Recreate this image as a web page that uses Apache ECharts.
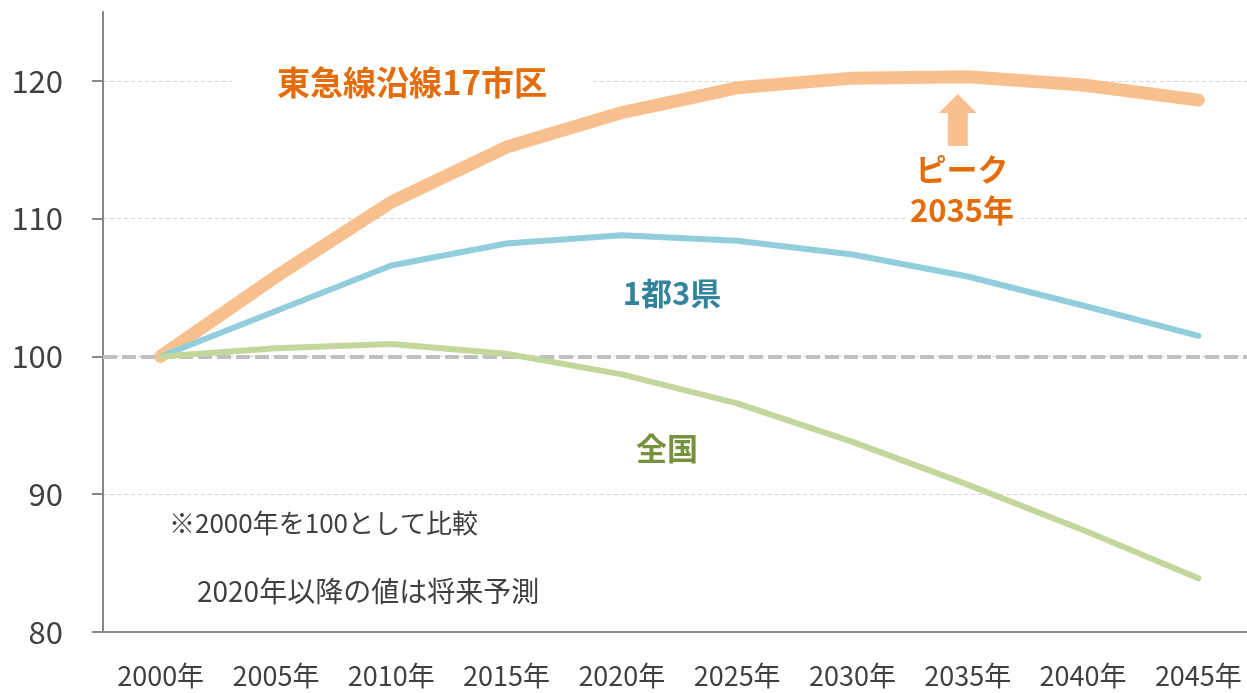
<!DOCTYPE html>
<html>
<head>
<meta charset="utf-8">
<script src="https://cdn.jsdelivr.net/npm/echarts@6/dist/echarts.min.js"></script>
<style>
  html, body { margin: 0; padding: 0; background: #fff; }
  #chart { width: 1247px; height: 693px; }
</style>
</head>
<body>
<div id="chart"></div>
<script>
// 年次（カテゴリ）
const years = ['2000年', '2005年', '2010年', '2015年', '2020年', '2025年', '2030年', '2035年', '2040年', '2045年']
// 2000年を100とした指数
const tokyuValues = [100, 105.8, 111.2, 115.2, 117.7, 119.5, 120.2, 120.3, 119.7, 118.6]
const metroValues = [100, 103.3, 106.6, 108.2, 108.8, 108.4, 107.4, 105.8, 103.7, 101.5]
const nationValues = [100, 100.6, 100.9, 100.2, 98.7, 96.6, 93.8, 90.7, 87.4, 83.9]
const yTicks = [80, 90, 100, 110, 120]

const FONT = "'Noto Sans CJK JP', 'Noto Sans', sans-serif"
const chart = echarts.init(document.getElementById('chart'))

chart.setOption({
  backgroundColor: '#fff',
  animation: false,
  textStyle: { fontFamily: FONT },
  // 右端は画面外まで伸ばす
  grid: { left: 103, right: -9, top: 12, bottom: 61, outerBoundsMode: 'none', containLabel: false },
  xAxis: {
    type: 'category',
    data: years,
    boundaryGap: true,
    axisLine: { lineStyle: { color: '#878787', width: 2 } },
    axisTick: { length: 10, lineStyle: { color: '#878787', width: 2 } },
    axisLabel: { color: '#404040', fontSize: 27, margin: 30, fontFamily: FONT }
  },
  yAxis: {
    type: 'value',
    min: 80,
    max: 125,
    interval: 10,
    axisLine: { show: true, lineStyle: { color: '#878787', width: 2 } },
    axisTick: { show: true, length: 11, customValues: yTicks, lineStyle: { color: '#878787', width: 2 } },
    axisLabel: { color: '#404040', fontSize: 31, margin: 40, customValues: yTicks, fontFamily: FONT },
    splitLine: {
      show: true,
      showMinLine: false,
      showMaxLine: true,
      lineStyle: { color: '#d4d4d4', width: 1, type: [4, 3] }
    }
  },
  series: [
    {
      name: '東急線沿線17市区',
      type: 'line',
      data: tokyuValues,
      symbol: 'none',
      z: 3,
      lineStyle: { color: '#f9c08f', width: 13, cap: 'round', join: 'round' },
      markPoint: {
        silent: true,
        symbol: 'path://M19,0 L38,19 L29,19 L29,52 L9,52 L9,19 L0,19 Z',
        symbolSize: [38, 52],
        symbolOffset: [-10, 0],
        itemStyle: { color: '#f9c08f' },
        label: { show: false },
        data: [{ coord: ['2035年', 117.16] }]
      }
    },
    {
      name: '1都3県',
      type: 'line',
      data: metroValues,
      symbol: 'none',
      z: 4,
      lineStyle: { color: '#92cddc', width: 6, cap: 'round', join: 'round' }
    },
    {
      name: '全国',
      type: 'line',
      data: nationValues,
      symbol: 'none',
      z: 5,
      lineStyle: { color: '#c3d69b', width: 6, cap: 'round', join: 'round' },
      markLine: {
        silent: true,
        symbol: ['none', 'none'],
        label: { show: false },
        lineStyle: { color: '#bfbfbf', width: 4, type: [14, 5] },
        data: [{ yAxis: 100 }]
      }
    }
  ],
  graphic: [
    {
      type: 'text',
      left: 232,
      top: 64,
      z: 10,
      style: {
        text: '東急線沿線17市区',
        fill: '#e46c0a',
        font: 'bold 33px ' + FONT,
        backgroundColor: '#fff',
        padding: [2, 45]
      }
    },
    {
      type: 'text',
      x: 962,
      y: 149,
      z: 10,
      style: {
        text: 'ピーク\n2035年',
        fill: '#e46c0a',
        font: 'bold 31px ' + FONT,
        lineHeight: 41,
        align: 'center',
        backgroundColor: '#fff',
        padding: [0, 5]
      }
    },
    {
      type: 'text',
      x: 672,
      y: 293,
      z: 10,
      style: {
        text: '1都3県',
        fill: '#31849b',
        font: 'bold 31px ' + FONT,
        align: 'center',
        verticalAlign: 'middle'
      }
    },
    {
      type: 'text',
      x: 667,
      y: 448,
      z: 10,
      style: {
        text: '全国',
        fill: '#76923c',
        font: 'bold 31px ' + FONT,
        align: 'center',
        verticalAlign: 'middle'
      }
    },
    {
      type: 'text',
      x: 169,
      y: 523,
      z: 10,
      style: {
        text: '※2000年を100として比較',
        fill: '#404040',
        font: '26px ' + FONT,
        verticalAlign: 'middle'
      }
    },
    {
      type: 'text',
      x: 197,
      y: 591,
      z: 10,
      style: {
        text: '2020年以降の値は将来予測',
        fill: '#404040',
        font: '28px ' + FONT,
        verticalAlign: 'middle'
      }
    }
  ]
})
</script>
</body>
</html>
